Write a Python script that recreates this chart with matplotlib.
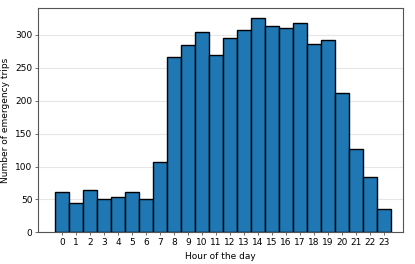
import matplotlib.pyplot as plt
import numpy as np

hours = list(range(24))
trips = [61, 45, 65, 50, 53, 62, 51, 107, 267, 284, 305, 270,
         296, 308, 325, 314, 310, 318, 286, 292, 211, 126, 84, 36]

plt.rcParams['font.size'] = 6.5
fig, ax = plt.subplots(figsize=(4.15, 2.64), dpi=100)
ax.bar(hours, trips, width=1.0, color='#1f77b4', edgecolor='black', linewidth=1.0, zorder=3)
ax.set_xticks(hours)
ax.set_xlim(-1.7, 24.4)
ax.set_ylim(0, 341)
ax.grid(axis='y', color='#e6e6e6', linewidth=0.8, zorder=0)
ax.tick_params(length=2, width=0.6, pad=2, color='#555555')
for s in ax.spines.values():
    s.set_color('#555555')
ax.set_xlabel('Hour of the day')
ax.set_ylabel('Number of emergency trips')
fig.subplots_adjust(left=0.092, right=0.972, top=0.97, bottom=0.12)
fig.savefig('out.png')
